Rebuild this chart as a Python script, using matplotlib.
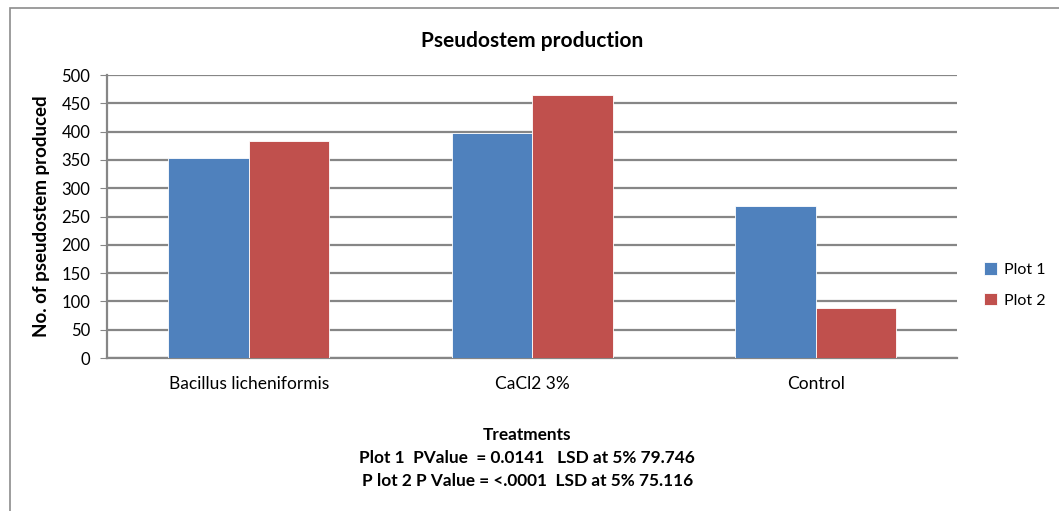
import numpy as np
import matplotlib.pyplot as plt
from matplotlib.patches import Rectangle

categories = ['Bacillus licheniformis', 'CaCl2 3%', 'Control']
plot1 = [353, 397, 268]
plot2 = [384, 465, 89]
series_names = ['Plot 1', 'Plot 2']
yticks = list(range(0, 501, 50))

blue = '#4F81BD'
red = '#C0504D'
grid = '#868686'

plt.rcParams['font.family'] = ['Lato', 'DejaVu Sans']

fig = plt.figure(figsize=(10.59, 5.11), dpi=100)
ax = fig.add_axes([0.101, 0.2994, 0.803, 0.5536])

x = np.arange(len(categories))
w = 0.284
ax.bar(x - w / 2, plot1, w, color=blue, edgecolor='white', linewidth=0.6,
       label=series_names[0], zorder=3)
ax.bar(x + w / 2, plot2, w, color=red, edgecolor='white', linewidth=0.6,
       label=series_names[1], zorder=3)

ax.set_xlim(-0.5, len(categories) - 0.5)
ax.set_ylim(0, 500)
ax.set_yticks(yticks)
ax.set_yticklabels([str(t) for t in yticks], fontsize=12)
ax.set_xticks(x)
ax.set_xticklabels(categories, fontsize=12.5)
ax.tick_params(axis='x', length=0, pad=13)
ax.tick_params(axis='y', length=5, color=grid, pad=7)
ax.yaxis.grid(True, color=grid, linewidth=1.6, zorder=0)
for s in ['top', 'right']:
    ax.spines[s].set_visible(False)
ax.spines['left'].set_color(grid)
ax.spines['left'].set_linewidth(1.6)
ax.spines['bottom'].set_color(grid)
ax.spines['bottom'].set_linewidth(1.6)

ax.set_title('Pseudostem production', fontsize=15, fontweight='bold', pad=20)
ax.set_ylabel('No. of pseudostem produced', fontsize=13.5, fontweight='bold',
              labelpad=8)

fig.text(0.498, 0.149, 'Treatments', ha='center', va='center',
         fontsize=12.4, fontweight='bold')
fig.text(0.498, 0.104, 'Plot 1  PValue  = 0.0141   LSD at 5% 79.746',
         ha='center', va='center', fontsize=12.4, fontweight='bold')
fig.text(0.498, 0.059, 'P lot 2 P Value = <.0001  LSD at 5% 75.116',
         ha='center', va='center', fontsize=12.4, fontweight='bold')

leg = fig.legend(loc='center left', bbox_to_anchor=(0.916, 0.442),
                 frameon=False, fontsize=11.5, handlelength=0.8,
                 handleheight=0.8, handletextpad=0.4, labelspacing=1.0)

fig.patches.append(Rectangle((0.0095, -0.02), 1.1, 1.004, transform=fig.transFigure,
                             fill=False, edgecolor='#8c8c8c', linewidth=1.2))

fig.savefig('out.png', dpi=100)
